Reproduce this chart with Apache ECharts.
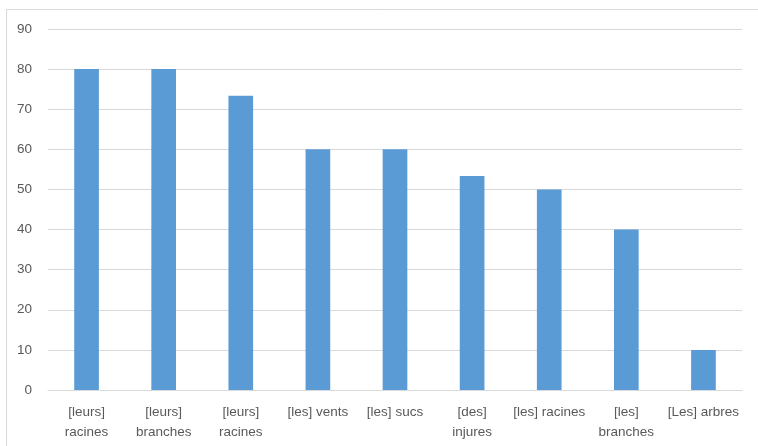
<!DOCTYPE html>
<html>
<head>
<meta charset="utf-8">
<script src="https://cdn.jsdelivr.net/npm/echarts@6/dist/echarts.min.js"></script>
<style>
  html, body { margin: 0; padding: 0; background: #fff; }
  #chart { width: 758px; height: 446px; }
</style>
</head>
<body>
<div id="chart"></div>
<script>
// Category labels (two-line where the text wraps)
const categories = [
  '[leurs]\nracines',
  '[leurs]\nbranches',
  '[leurs]\nracines',
  '[les] vents',
  '[les] sucs',
  '[des]\ninjures',
  '[les] racines',
  '[les]\nbranches',
  '[Les] arbres'
];
const values = [80, 80, 73.33, 60, 60, 53.33, 50, 40, 10];
const yTicks = { min: 0, max: 90, step: 10 };

const chart = echarts.init(document.getElementById('chart'), null, { renderer: 'canvas' });
const labelFont = "'Liberation Sans', 'DejaVu Sans', sans-serif";

chart.setOption({
  animation: false,
  backgroundColor: '#ffffff',
  graphic: [{
    type: 'rect',
    shape: { x: 6.5, y: 9.5, width: 770, height: 460 },
    style: { fill: 'none', stroke: '#d9d9d9', lineWidth: 1 },
    silent: true
  }],
  grid: { left: 48, right: 16, top: 29, bottom: 56 },
  xAxis: {
    type: 'category',
    data: categories,
    axisLine: { show: true, lineStyle: { color: '#d9d9d9', width: 1 } },
    axisTick: { show: false },
    axisLabel: {
      color: '#595959',
      fontFamily: labelFont,
      fontSize: 13.5,
      lineHeight: 20,
      margin: 12,
      interval: 0
    }
  },
  yAxis: {
    type: 'value',
    min: yTicks.min,
    max: yTicks.max,
    interval: yTicks.step,
    axisLine: { show: false },
    axisTick: { show: false },
    splitLine: { lineStyle: { color: '#d9d9d9', width: 1 } },
    axisLabel: {
      color: '#595959',
      fontFamily: labelFont,
      fontSize: 13.5,
      margin: 16
    }
  },
  series: [{
    type: 'bar',
    data: values,
    barWidth: '32%',
    itemStyle: { color: '#5b9bd5' }
  }]
});
</script>
</body>
</html>
